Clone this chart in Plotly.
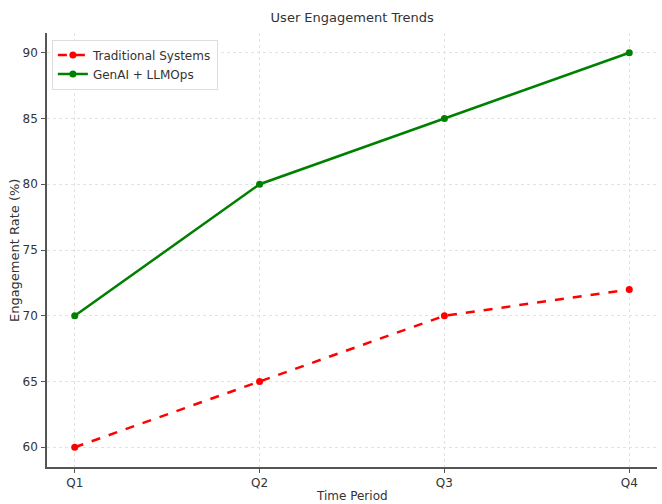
import plotly.graph_objects as go

# Quarterly engagement rates
periods = ["Q1", "Q2", "Q3", "Q4"]
traditional = [60, 65, 70, 72]
genai_llmops = [70, 80, 85, 90]
y_ticks = [60, 65, 70, 75, 80, 85, 90]

FONT = "DejaVu Sans"
TEXT = "#333333"

fig = go.Figure()
fig.add_trace(go.Scatter(
    x=list(range(len(periods))), y=traditional, name="Traditional Systems",
    mode="lines+markers",
    line=dict(color="#ff0000", width=2.5, dash="dash"),
    marker=dict(color="#ff0000", size=7),
))
fig.add_trace(go.Scatter(
    x=list(range(len(periods))), y=genai_llmops, name="GenAI + LLMOps",
    mode="lines+markers",
    line=dict(color="#008000", width=2.5),
    marker=dict(color="#008000", size=7),
))

fig.update_layout(
    width=662, height=504,
    margin=dict(l=47, r=5, t=33, b=37),
    paper_bgcolor="white", plot_bgcolor="white",
    font=dict(family=FONT, size=12, color=TEXT),
    title=dict(text="User Engagement Trends", x=0.532, xanchor="center",
               y=0.965, yanchor="middle", font=dict(size=13, color=TEXT)),
    showlegend=True,
    legend=dict(x=0.008, y=0.985, xanchor="left", yanchor="top",
                bgcolor="rgba(255,255,255,0.85)", bordercolor="#dddddd",
                borderwidth=1, font=dict(size=12, color=TEXT),
                itemwidth=30, tracegroupgap=2),
    annotations=[
        dict(text="Time Period", xref="paper", yref="paper", x=0.5, y=-0.067,
             xanchor="center", yanchor="middle", showarrow=False,
             font=dict(size=12, color=TEXT)),
        dict(text="Engagement Rate (%)", xref="paper", yref="paper",
             x=-0.054, y=0.5, xanchor="center", yanchor="middle",
             textangle=-90, showarrow=False,
             font=dict(size=13, color=TEXT)),
    ],
)
fig.update_xaxes(
    range=[-0.15, 3.15], automargin=False,
    tickmode="array", tickvals=list(range(len(periods))), ticktext=periods,
    showgrid=True, gridcolor="#e2e2e2", griddash="dot", gridwidth=1,
    showline=True, linecolor="#555555", linewidth=1.5,
    ticks="outside", ticklen=4, tickcolor="#555555",
    zeroline=False,
)
fig.update_yaxes(
    range=[58.5, 91.5], automargin=False,
    tickmode="array", tickvals=y_ticks,
    showgrid=True, gridcolor="#e2e2e2", griddash="dot", gridwidth=1,
    showline=True, linecolor="#555555", linewidth=1.5,
    ticks="outside", ticklen=4, tickcolor="#555555", ticklabelstandoff=1,
    zeroline=False,
)

fig.write_html("out.html")
